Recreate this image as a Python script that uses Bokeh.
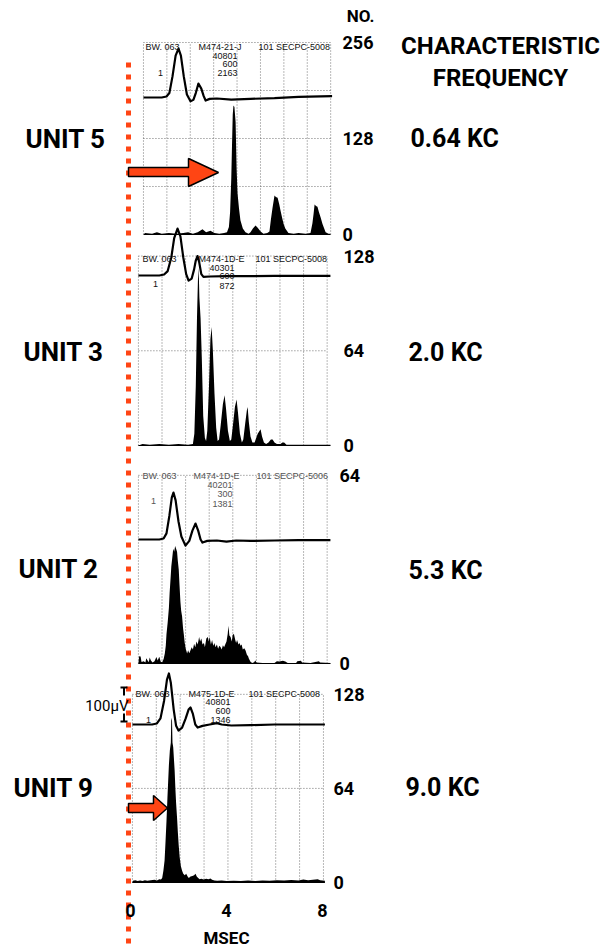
from bokeh.plotting import figure
from bokeh.models import Range1d
from bokeh.core.properties import value
from bokeh.embed import file_html
from bokeh.resources import INLINE

# ------------------------------------------------------------------ data
UNITS = ["UNIT 5", "UNIT 3", "UNIT 2", "UNIT 9"]
CHAR_FREQ = ["0.64 KC", "2.0  KC", "5.3  KC", "9.0  KC"]
COUNT_MAX = [256, 128, 64, 128]
COUNT_TICKS = [[256, 128, 0], [128, 64, 0], [64, 0], [128, 64, 0]]
COUNT_GRID = [[64, 128, 192, 256], [64, 128], [64], [64, 128]]
MSEC_TICKS = [0, 4, 8]
SCALE_BAR_UV = 100

# post-stimulus histograms (msec, spike count)
HIST_U5 = [(0.55, 0), (0.6, 2), (0.9, 1), (1.1, 3), (1.3, 1), (1.6, 2), (1.9, 1), (2.2, 2), (2.4, 3),
           (2.6, 1), (2.8, 3), (3.0, 7), (3.15, 3), (3.33, 5), (3.5, 2), (3.7, 1), (3.9, 2), (4.02, 3),
           (4.1, 10), (4.15, 30), (4.2, 76), (4.23, 120), (4.26, 160), (4.29, 172), (4.33, 170),
           (4.38, 150), (4.42, 89), (4.46, 55), (4.52, 35), (4.58, 19), (4.68, 8), (4.79, 3), (4.92, 1),
           (5.0, 3), (5.1, 8), (5.21, 12), (5.3, 9), (5.42, 4), (5.54, 1), (5.7, 2), (5.79, 4), (5.85, 20),
           (5.92, 36), (6.0, 52), (6.06, 50), (6.13, 49), (6.2, 40), (6.25, 32), (6.32, 22), (6.38, 14),
           (6.45, 8), (6.58, 2), (6.8, 1), (7.0, 2), (7.3, 1), (7.5, 2), (7.58, 15), (7.63, 28), (7.67, 40),
           (7.73, 38), (7.79, 37), (7.85, 30), (7.92, 23), (8.0, 14), (8.13, 3), (8.25, 1), (8.33, 1),
           (8.33, 0)]
HIST_U3 = [(0.33, 0), (0.5, 1), (0.8, 0.5), (1.2, 1), (1.6, 0.5), (2.0, 1), (2.4, 0.5), (2.6, 1),
           (2.66, 8), (2.72, 40), (2.77, 86), (2.81, 112), (2.84, 120), (2.87, 100), (2.92, 86),
           (2.97, 60), (3.03, 20), (3.1, 5), (3.15, 3), (3.2, 10), (3.27, 40), (3.33, 72), (3.38, 80),
           (3.43, 65), (3.5, 35), (3.57, 12), (3.63, 3), (3.69, 4), (3.76, 14), (3.85, 28), (3.92, 34),
           (3.98, 25), (4.06, 10), (4.14, 3), (4.2, 4), (4.27, 14), (4.35, 26), (4.42, 31), (4.48, 22),
           (4.56, 8), (4.64, 2), (4.7, 4), (4.78, 15), (4.85, 24), (4.88, 26), (4.93, 16), (5.0, 6),
           (5.08, 2), (5.17, 2), (5.3, 8), (5.38, 10), (5.42, 11), (5.48, 6), (5.56, 2), (5.65, 1),
           (5.75, 2), (5.85, 4), (5.92, 4), (6.0, 2), (6.1, 1), (6.25, 1), (6.33, 2), (6.4, 2),
           (6.5, 0.5), (7.0, 0.5), (8.0, 0.5), (8.33, 0.5), (8.33, 0)]
HIST_U2 = [(0.33, 0), (0.36, 2.5), (0.42, 2.4), (0.46, 0.5), (0.55, 0.8), (0.62, 0.3), (0.66, 1.8),
           (0.7, 1.2), (0.76, 0.4), (0.8, 2.0), (0.85, 1.0), (0.92, 0.3), (1.0, 0.8), (1.08, 2.2),
           (1.13, 1.0), (1.2, 2.3), (1.26, 0.6), (1.32, 0.4), (1.38, 1.5), (1.43, 3.4), (1.47, 6),
           (1.5, 10), (1.55, 14), (1.6, 19), (1.63, 24), (1.67, 29), (1.7, 33), (1.74, 36), (1.78, 39),
           (1.82, 38), (1.86, 40), (1.9, 39), (1.94, 38), (1.97, 35), (2.01, 32), (2.04, 27), (2.08, 21),
           (2.11, 18), (2.15, 16), (2.19, 12), (2.22, 10), (2.26, 7), (2.3, 5), (2.36, 3.4), (2.4, 4.5),
           (2.45, 3.5), (2.5, 4.5), (2.55, 5.5), (2.6, 4.8), (2.65, 6.7), (2.7, 5.5), (2.75, 7.5),
           (2.8, 6.5), (2.86, 9), (2.9, 7.5), (2.95, 8.5), (3.0, 6.5), (3.06, 7), (3.1, 5.5), (3.16, 8.5),
           (3.22, 9), (3.26, 7.5), (3.3, 9), (3.35, 6.5), (3.4, 8), (3.45, 6), (3.5, 7), (3.54, 5.5),
           (3.6, 6.5), (3.65, 5), (3.7, 6), (3.75, 5.6), (3.8, 4.8), (3.85, 6.2), (3.9, 5.5), (3.96, 6.7),
           (4.0, 7.5), (4.05, 10), (4.08, 12.8), (4.12, 9.5), (4.17, 9), (4.22, 7.5), (4.26, 9.8),
           (4.31, 10), (4.36, 8.2), (4.4, 7), (4.44, 8), (4.5, 6.5), (4.55, 7), (4.58, 6), (4.63, 6.5),
           (4.68, 4.8), (4.74, 5.2), (4.79, 4.5), (4.85, 3), (4.9, 2.5), (4.93, 1.7), (5.0, 0.6),
           (5.07, 0.2), (5.15, 0.4), (5.2, 1.0), (5.25, 0.3), (5.5, 0.2), (6.0, 0.2), (6.1, 0.8),
           (6.2, 0.7), (6.35, 0.9), (6.45, 0.7), (6.55, 0.2), (6.9, 0.2), (6.95, 0.8), (7.1, 0.9),
           (7.15, 0.3), (7.5, 0.2), (7.85, 0.8), (7.9, 0.3), (8.33, 0.2), (8.33, 0)]
HIST_U9 = [(0.08, 0), (0.1, 1.2), (0.2, 1.5), (0.3, 1.0), (0.4, 1.3), (0.5, 1.0), (0.6, 1.6), (0.7, 1.2),
           (0.85, 1.5), (1.0, 1.8), (1.1, 1.4), (1.2, 2.2), (1.27, 2.0), (1.32, 3), (1.37, 8), (1.42, 15),
           (1.46, 28), (1.5, 42), (1.54, 58), (1.57, 69), (1.6, 80), (1.64, 90), (1.68, 95), (1.7, 112),
           (1.73, 110), (1.75, 95), (1.78, 92), (1.81, 84), (1.84, 76), (1.87, 64), (1.9, 54), (1.94, 44),
           (1.97, 35), (2.01, 25), (2.05, 17), (2.1, 11), (2.15, 8), (2.2, 6), (2.26, 5), (2.32, 6),
           (2.38, 4), (2.43, 3), (2.5, 4), (2.58, 4.5), (2.65, 5), (2.71, 6), (2.76, 4), (2.82, 3),
           (2.88, 2.2), (2.95, 2.5), (3.05, 2.0), (3.15, 2.6), (3.25, 2.2), (3.33, 2.8), (3.4, 1.8),
           (3.5, 1.4), (3.61, 1.2), (3.8, 1.3), (4.0, 1.0), (4.3, 1.2), (4.6, 1.0), (4.9, 1.3), (5.2, 1.1),
           (5.5, 1.4), (5.8, 1.2), (6.1, 1.5), (6.4, 1.3), (6.7, 1.7), (7.0, 1.4), (7.2, 2.0), (7.4, 1.5),
           (7.6, 1.8), (7.8, 2.2), (7.9, 1.6), (8.1, 1.2), (8.1, 0)]

# averaged spike waveforms (msec, microvolts)
WAVE_U5 = [(0.54, 0), (1.3, 0), (1.5, 3), (1.62, 13), (1.75, 62), (1.88, 123), (2.0, 144), (2.1, 123),
           (2.22, 62), (2.35, 9), (2.5, -11), (2.62, -7), (2.72, 13), (2.83, 41), (2.95, 26), (3.05, 4),
           (3.13, -9), (3.3, -4), (3.6, -3), (4.2, -6), (5.0, -4), (6.0, -2), (7.0, 2), (8.4, 4)]
WAVE_U3 = [(0.33, 0), (1.2, 0), (1.4, 3), (1.55, 13), (1.7, 53), (1.82, 110), (1.96, 138), (2.08, 115),
           (2.2, 53), (2.32, 4), (2.42, -15), (2.55, -9), (2.65, 18), (2.72, 44), (2.79, 57), (2.86, 40),
           (2.95, 4), (3.04, -4), (3.3, -3), (4.0, -2), (5.0, -2), (6.0, -1), (7.0, -1), (8.33, -1)]
WAVE_U2 = [(0.33, 0), (1.2, 0), (1.38, 3), (1.5, 18), (1.62, 70), (1.72, 123), (1.79, 138), (1.88, 115),
           (2.0, 53), (2.12, 9), (2.29, -18), (2.45, -4), (2.58, 26), (2.71, 47), (2.82, 26), (2.92, 0),
           (3.0, -9), (3.2, -4), (3.6, -3), (4.0, -6), (4.4, -3), (5.0, -4), (6.0, -3), (7.0, -2), (8.33, -2)]
WAVE_U9 = [(0.08, 0), (0.9, 0), (1.1, 3), (1.25, 18), (1.4, 70), (1.52, 132), (1.6, 150), (1.68, 123),
           (1.8, 44), (1.9, -4), (2.0, -18), (2.15, -9), (2.3, 18), (2.42, 44), (2.5, 50), (2.6, 31),
           (2.7, 0), (2.8, -9), (3.0, -4), (3.3, 0), (3.6, 4), (3.8, 0), (4.2, -3), (5.0, -2), (6.0, 0),
           (7.0, 0), (8.1, 0)]

HISTS = [HIST_U5, HIST_U3, HIST_U2, HIST_U9]
WAVES = [WAVE_U5, WAVE_U3, WAVE_U2, WAVE_U9]

# photo-record annotations printed in each panel
HEADERS = [
    ["BW. 063", "M474-21-J", "101 SECPC-5008", "40801", "600", "2163", "1"],
    ["BW. 063", "M474-1D-E", "101 SECPC-5008", "40301", "600", "872", "1"],
    ["BW. 063", "M474-1D-E", "101 SECPC-5006", "40201", "300", "1381", "1"],
    ["BW. 063", "M475-1D-E", "101 SECPC-5008", "40801", "600", "1346", "1"],
]

# ------------------------------------------------------------------ layout (pixels)
W, H = 611, 947
X0_PX, PX_PER_MS = 130.0, 24.0          # msec axis: 0 msec at x=130 px
UV_PX = 0.34                            # px per microvolt
PANELS = [
    dict(base=234, scale=0.75, wbase=97, g0=0.54, gd=0.975, lx=342, head_y=46, head_x=[145, 198, 258], num_x=237, num_y=[55, 63, 72], one=(160, 72), color="#111111"),
    dict(base=445, scale=1.48, wbase=275, g0=0.33, gd=0.983, lx=343, head_y=258, head_x=[142, 198, 255], num_x=234, num_y=[267, 275, 285], one=(155, 283), color="#111111"),
    dict(base=663, scale=2.94, wbase=539, g0=0.33, gd=0.983, lx=339, head_y=475, head_x=[142, 193, 256], num_x=232, num_y=[484, 493, 503], one=(153, 500), color="#555555"),
    dict(base=882, scale=1.47, wbase=724, g0=0.08, gd=0.995, lx=333, head_y=693, head_x=[135, 188, 248], num_x=230, num_y=[701, 710, 719], one=(148, 719), color="#111111"),
]
UNIT_LABEL_POS = [(25, 138), (23, 351), (18, 568), (13, 787)]
FREQ_LABEL_POS = [(410, 138), (408, 352), (408, 570), (405, 787)]
RED = "#ff4514"
BOLD = value("Roboto")

p = figure(width=W, height=H,
           x_range=Range1d(-X0_PX / PX_PER_MS, (W - X0_PX) / PX_PER_MS),
           y_range=Range1d(H, 0),
           min_border=0, toolbar_location=None, output_backend="svg",
           x_axis_location=None, y_axis_location=None)
p.outline_line_color = None
p.background_fill_color = "white"
p.border_fill_color = "white"
p.xgrid.grid_line_color = None
p.ygrid.grid_line_color = None
p.extra_x_ranges = {"px": Range1d(0, W)}

for i, cfg in enumerate(PANELS):
    b, s, wb = cfg["base"], cfg["scale"], cfg["wbase"]
    p.extra_y_ranges[f"n{i}"] = Range1d((b - H) / s, b / s)
    p.extra_y_ranges[f"w{i}"] = Range1d((wb - H) / UV_PX, wb / UV_PX)

# red time-zero line (dotted squares)
p.segment(x0=[0 - 2 / PX_PER_MS], y0=[62], x1=[0 - 2 / PX_PER_MS], y1=[H],
          line_color=RED, line_width=5, line_dash="5 7")

for i, cfg in enumerate(PANELS):
    nr, wr = f"n{i}", f"w{i}"
    gx = [cfg["g0"] + k * cfg["gd"] for k in range(9)]
    p.segment(x0=gx, y0=[0] * 9, x1=gx, y1=[COUNT_MAX[i]] * 9, y_range_name=nr,
              line_color="#444444", line_width=1, line_dash="1 2", line_alpha=0.75)
    hy = COUNT_GRID[i]
    p.segment(x0=[gx[0]] * len(hy), y0=hy, x1=[gx[-1]] * len(hy), y1=hy, y_range_name=nr,
              line_color="#444444", line_width=1, line_dash="1 2", line_alpha=0.75)
    ht = [a for a, _ in HISTS[i]]
    hn = [c for _, c in HISTS[i]]
    p.varea(x=ht, y1=[0] * len(ht), y2=hn, y_range_name=nr, fill_color="black")
    p.line(x=[ht[0], ht[-1]], y=[0, 0], y_range_name=nr, line_color="black", line_width=1.2)
    wt = [a for a, _ in WAVES[i]]
    wv = [v for _, v in WAVES[i]]
    p.line(x=wt, y=wv, y_range_name=wr, line_color="black", line_width=2.2, line_join="round")
    tk = COUNT_TICKS[i]
    p.text(x=[cfg["lx"]] * len(tk), y=tk, text=[str(t) for t in tk], x_range_name="px", y_range_name=nr,
           text_font=BOLD, text_font_style="bold", text_font_size="18px",
           text_baseline="middle", text_align="left", text_color="black")
    hd = HEADERS[i]
    p.text(x=cfg["head_x"], y=[cfg["head_y"]] * 3, text=hd[:3], x_range_name="px",
           text_font=value("Liberation Sans"), text_font_size="9px", text_baseline="middle",
           text_align="left", text_color=cfg["color"])
    p.text(x=[cfg["num_x"]] * 3, y=cfg["num_y"], text=hd[3:6], x_range_name="px",
           text_font=value("Liberation Sans"), text_font_size="9px", text_baseline="middle",
           text_align="right", text_color=cfg["color"])
    p.text(x=[cfg["one"][0]], y=[cfg["one"][1]], text=[hd[6]], x_range_name="px",
           text_font=value("Liberation Sans"), text_font_size="9px", text_baseline="middle",
           text_align="center", text_color=cfg["color"])

p.text(x=[a for a, _ in UNIT_LABEL_POS], y=[b for _, b in UNIT_LABEL_POS], text=UNITS, x_range_name="px",
       text_font=BOLD, text_font_style="bold", text_font_size="26px", text_baseline="middle",
       text_align="left", text_color="black")
p.text(x=[a for a, _ in FREQ_LABEL_POS], y=[b for _, b in FREQ_LABEL_POS], text=CHAR_FREQ, x_range_name="px",
       text_font=BOLD, text_font_style="bold", text_font_size="25px", text_baseline="middle",
       text_align="left", text_color="black")
p.text(x=[500, 500], y=[45, 77], text=["CHARACTERISTIC", "FREQUENCY"], x_range_name="px",
       text_font=BOLD, text_font_style="bold", text_font_size="24px", text_baseline="middle",
       text_align="center", text_color="black")
p.text(x=[360], y=[15], text=["NO."], x_range_name="px",
       text_font=BOLD, text_font_style="bold", text_font_size="17px", text_baseline="middle",
       text_align="center", text_color="black")

p.text(x=MSEC_TICKS, y=[910] * len(MSEC_TICKS), text=[str(t) for t in MSEC_TICKS],
       text_font=BOLD, text_font_style="bold", text_font_size="18px", text_baseline="middle",
       text_align="center", text_color="black")
p.text(x=[4], y=[937], text=["MSEC"], text_font=BOLD, text_font_style="bold", text_font_size="17px",
       text_baseline="middle", text_align="center", text_color="black")

sb0, sb1 = 9, 9 + SCALE_BAR_UV
p.segment(x0=[120, 120, 123.5, 123.5], y0=[sb1, sb0, sb1, sb0 + 8 / UV_PX],
          x1=[127, 127, 123.5, 123.5], y1=[sb1, sb0, sb1 - 8 / UV_PX, sb0],
          x_range_name="px", y_range_name="w3", line_color="black", line_width=2)
p.text(x=[128], y=[705], text=["100μV"], x_range_name="px", text_font=value("Roboto"),
       text_font_size="15px", text_baseline="middle", text_align="right", text_color="black")

ARROWS = [
    ([128, 188, 188, 218, 188, 188, 128], [167, 167, 158, 172, 186, 176, 176]),
    ([128, 153, 153, 167, 153, 153, 128], [803, 803, 795, 807.5, 820, 812, 812]),
]
for ax, ay in ARROWS:
    p.patch(x=ax, y=ay, x_range_name="px", fill_color=RED, line_color="black", line_width=1.5)

open("out.html", "w").write(file_html(p, INLINE))
